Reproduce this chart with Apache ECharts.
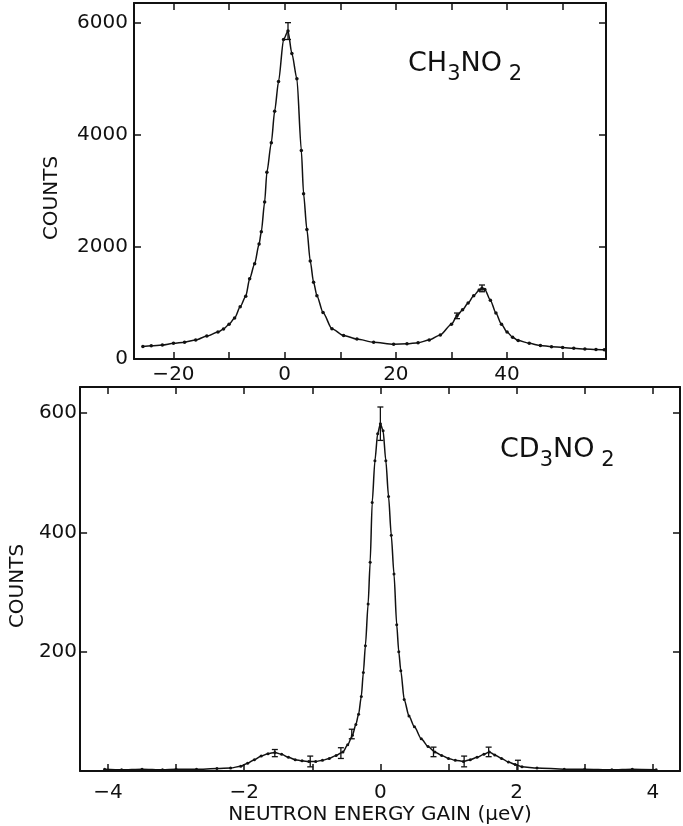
<!DOCTYPE html>
<html>
<head>
<meta charset="utf-8">
<script src="https://cdn.jsdelivr.net/npm/echarts@6/dist/echarts.min.js"></script>
<style>
  html, body { margin: 0; padding: 0; background: #fff; }
  #chart { width: 683px; height: 826px; }
</style>
</head>
<body>
<div id="chart"></div>
<script>
// CH3NO2 (top panel): energy gain (ueV) and counts
const chEnergy = [-25.5, -24, -22, -20, -18, -16, -14, -12, -11, -10, -9, -8, -7, -6.3, -5.4, -4.6, -4.2, -3.6, -3.2, -2.4, -1.8, -1.1, -0.2, 0.6, 1.3, 2.2, 3.0, 3.4, 4.0, 4.6, 5.2, 5.8, 6.9, 8.5, 10.6, 13, 16, 19.6, 22, 24, 26, 28, 30, 31, 32, 33, 34, 35, 35.5, 36, 37, 38, 39, 40, 41, 42, 44, 46, 48, 50, 52, 54, 56, 57.5];
const chCounts = [225, 235, 250, 280, 300, 340, 410, 480, 535, 620, 730, 930, 1120, 1430, 1700, 2050, 2270, 2800, 3330, 3860, 4420, 4950, 5700, 5850, 5450, 5000, 3720, 2950, 2310, 1750, 1370, 1130, 830, 540, 420, 355, 300, 265, 270, 290, 340, 430, 620, 770, 880, 1000, 1130, 1230, 1260, 1240, 1050, 820, 620, 480, 390, 330, 280, 240, 220, 205, 190, 180, 170, 165];
const chErrE = [0.6, 31, 35.5];
const chErrC = [5850, 770, 1260];
const chErrS = [150, 50, 60];

// CD3NO2 (bottom panel)
const cdEnergy = [-4.05, -3.8, -3.5, -3.2, -3.0, -2.7, -2.4, -2.2, -2.05, -1.95, -1.85, -1.75, -1.65, -1.55, -1.45, -1.35, -1.25, -1.15, -1.05, -0.95, -0.85, -0.75, -0.65, -0.55, -0.48, -0.41, -0.36, -0.32, -0.28, -0.25, -0.22, -0.18, -0.15, -0.12, -0.08, -0.04, 0, 0.04, 0.08, 0.12, 0.16, 0.2, 0.24, 0.27, 0.3, 0.35, 0.42, 0.5, 0.6, 0.7, 0.8, 0.9, 1.0, 1.1, 1.22, 1.32, 1.42, 1.52, 1.6, 1.68, 1.78, 1.88, 1.98, 2.08, 2.3, 2.7, 3.0, 3.4, 3.7, 4.05];
const cdCounts = [3, 2, 3, 2, 3, 3, 4, 5, 8, 13, 19, 25, 29, 31, 28, 23, 19, 17, 16, 16, 18, 21, 26, 32, 44, 60, 78, 95, 125, 165, 210, 280, 350, 450, 520, 565, 582, 570, 520, 460, 395, 330, 245, 200, 168, 120, 92, 74, 54, 41, 32, 26, 21, 18, 16, 19, 23, 28, 32, 27, 21, 15, 11, 7, 5, 3, 3, 2, 3, 2];
const cdErrE = [0, -1.55, -1.03, -0.58, -0.42, 0.78, 1.23, 1.59, 2.02];
const cdErrC = [582, 30, 16, 30, 62, 32, 16, 32, 9];
const cdErrS = [28, 6, 9, 9, 8, 8, 9, 8, 9];

// ticks and labels
const chXTicks = [-20, -10, 0, 10, 20, 30, 40, 50];
const chXLabels = [-20, 0, 20, 40];
const chYTicks = [2000, 4000, 6000];
const chYLabels = [0, 2000, 4000, 6000];
const cdXTicks = [-4, -3, -2, -1, 0, 1, 2, 3, 4];
const cdXLabels = [-4, -2, 0, 2, 4];
const cdYTicks = [200, 400, 600];

const ink = '#111';
const font = 'DejaVu Sans';

function pairs(xs, ys) { return xs.map((x, i) => [x, ys[i]]); }
function errData(xs, cs, ss) { return xs.map((x, i) => [x, cs[i] - ss[i], cs[i] + ss[i]]); }

function axisLine() { return { show: true, onZero: false, lineStyle: { color: ink, width: 2 } }; }
function ticks(values) {
  return { show: true, inside: true, length: 7, customValues: values, lineStyle: { color: ink, width: 1.5 } };
}
function labels(values, margin) {
  return {
    show: true, customValues: values, color: ink, fontFamily: font, fontSize: 20, margin: margin,
    formatter: v => String(v).replace('-', '\u2212')
  };
}
const noLabel = { show: false };

function errorBars(params, api) {
  const x = api.value(0);
  const a = api.coord([x, api.value(1)]);
  const b = api.coord([x, api.value(2)]);
  const w = 3;
  const st = { stroke: ink, lineWidth: 1.3 };
  return {
    type: 'group',
    children: [
      { type: 'line', shape: { x1: a[0], y1: a[1], x2: b[0], y2: b[1] }, style: st },
      { type: 'line', shape: { x1: a[0] - w, y1: a[1], x2: a[0] + w, y2: a[1] }, style: st },
      { type: 'line', shape: { x1: b[0] - w, y1: b[1], x2: b[0] + w, y2: b[1] }, style: st }
    ]
  };
}

const nameStyle = { fontFamily: font, fontSize: 20, color: ink };

const option = {
  animation: false,
  backgroundColor: '#fff',
  grid: [
    { left: 134, top: 3, width: 472, height: 356 },
    { left: 63, top: 387, width: 617, height: 385 }
  ],
  xAxis: [
    { type: 'value', gridIndex: 0, position: 'bottom', min: -27.1, max: 57.8,
      axisLine: axisLine(), axisTick: ticks(chXTicks), axisLabel: labels(chXLabels, 6), splitLine: { show: false } },
    { type: 'value', gridIndex: 0, position: 'top', min: -27.1, max: 57.8,
      axisLine: axisLine(), axisTick: ticks(chXTicks), axisLabel: noLabel, splitLine: { show: false } },
    { type: 'value', gridIndex: 1, position: 'bottom', min: -4.41, max: 4.40,
      axisLine: axisLine(), axisTick: ticks(cdXTicks), axisLabel: labels(cdXLabels, 12), splitLine: { show: false },
      name: 'NEUTRON ENERGY GAIN (\u03bceV)', nameLocation: 'middle', nameGap: 34, nameTextStyle: nameStyle },
    { type: 'value', gridIndex: 1, position: 'top', min: -4.41, max: 4.40,
      axisLine: axisLine(), axisTick: ticks(cdXTicks), axisLabel: noLabel, splitLine: { show: false } }
  ],
  yAxis: [
    { type: 'value', gridIndex: 0, position: 'left', min: 0, max: 6351,
      axisLine: axisLine(), axisTick: ticks(chYTicks), axisLabel: labels(chYLabels, 6), splitLine: { show: false },
      name: 'COUNTS', nameLocation: 'middle', nameGap: 72,
      nameTextStyle: Object.assign({ padding: [0, 34, 0, 0] }, nameStyle) },
    { type: 'value', gridIndex: 0, position: 'right', min: 0, max: 6351,
      axisLine: axisLine(), axisTick: ticks(chYTicks), axisLabel: noLabel, splitLine: { show: false } },
    { type: 'value', gridIndex: 1, position: 'left', min: 0, max: 643.5,
      axisLine: axisLine(), axisTick: ticks(cdYTicks), axisLabel: labels(cdYTicks, 3), splitLine: { show: false },
      name: 'COUNTS', nameLocation: 'middle', nameGap: 46,
      nameTextStyle: Object.assign({ padding: [0, 14, 0, 0] }, nameStyle) },
    { type: 'value', gridIndex: 1, position: 'right', min: 0, max: 643.5,
      axisLine: axisLine(), axisTick: ticks(cdYTicks), axisLabel: noLabel, splitLine: { show: false } }
  ],
  series: [
    { type: 'line', xAxisIndex: 0, yAxisIndex: 0, data: pairs(chEnergy, chCounts),
      smooth: 0.25, smoothMonotone: 'x', symbol: 'circle', symbolSize: 3.5,
      lineStyle: { color: ink, width: 1.5 }, itemStyle: { color: ink } },
    { type: 'custom', xAxisIndex: 0, yAxisIndex: 0, data: errData(chErrE, chErrC, chErrS),
      renderItem: errorBars, encode: { x: 0, y: [1, 2] } },
    { type: 'line', xAxisIndex: 2, yAxisIndex: 2, data: pairs(cdEnergy, cdCounts),
      smooth: 0.25, smoothMonotone: 'x', symbol: 'circle', symbolSize: 3,
      lineStyle: { color: ink, width: 1.5 }, itemStyle: { color: ink } },
    { type: 'custom', xAxisIndex: 2, yAxisIndex: 2, data: errData(cdErrE, cdErrC, cdErrS),
      renderItem: errorBars, encode: { x: 0, y: [1, 2] } }
  ],
  graphic: [
    { type: 'text', left: 408, top: 50, style: {
        text: '{m|CH}{s|3}{m|NO}{s| 2}',
        rich: {
          m: { fontFamily: font, fontSize: 27, lineHeight: 30, verticalAlign: 'top', fill: ink },
          s: { fontFamily: font, fontSize: 21, lineHeight: 21, verticalAlign: 'top', padding: [14, 0, 0, 0], fill: ink }
        } } },
    { type: 'text', left: 500, top: 436, style: {
        text: '{m|CD}{s|3}{m|NO}{s| 2}',
        rich: {
          m: { fontFamily: font, fontSize: 27, lineHeight: 30, verticalAlign: 'top', fill: ink },
          s: { fontFamily: font, fontSize: 21, lineHeight: 21, verticalAlign: 'top', padding: [14, 0, 0, 0], fill: ink }
        } } }
  ]
};

echarts.init(document.getElementById('chart')).setOption(option);
</script>
</body>
</html>
